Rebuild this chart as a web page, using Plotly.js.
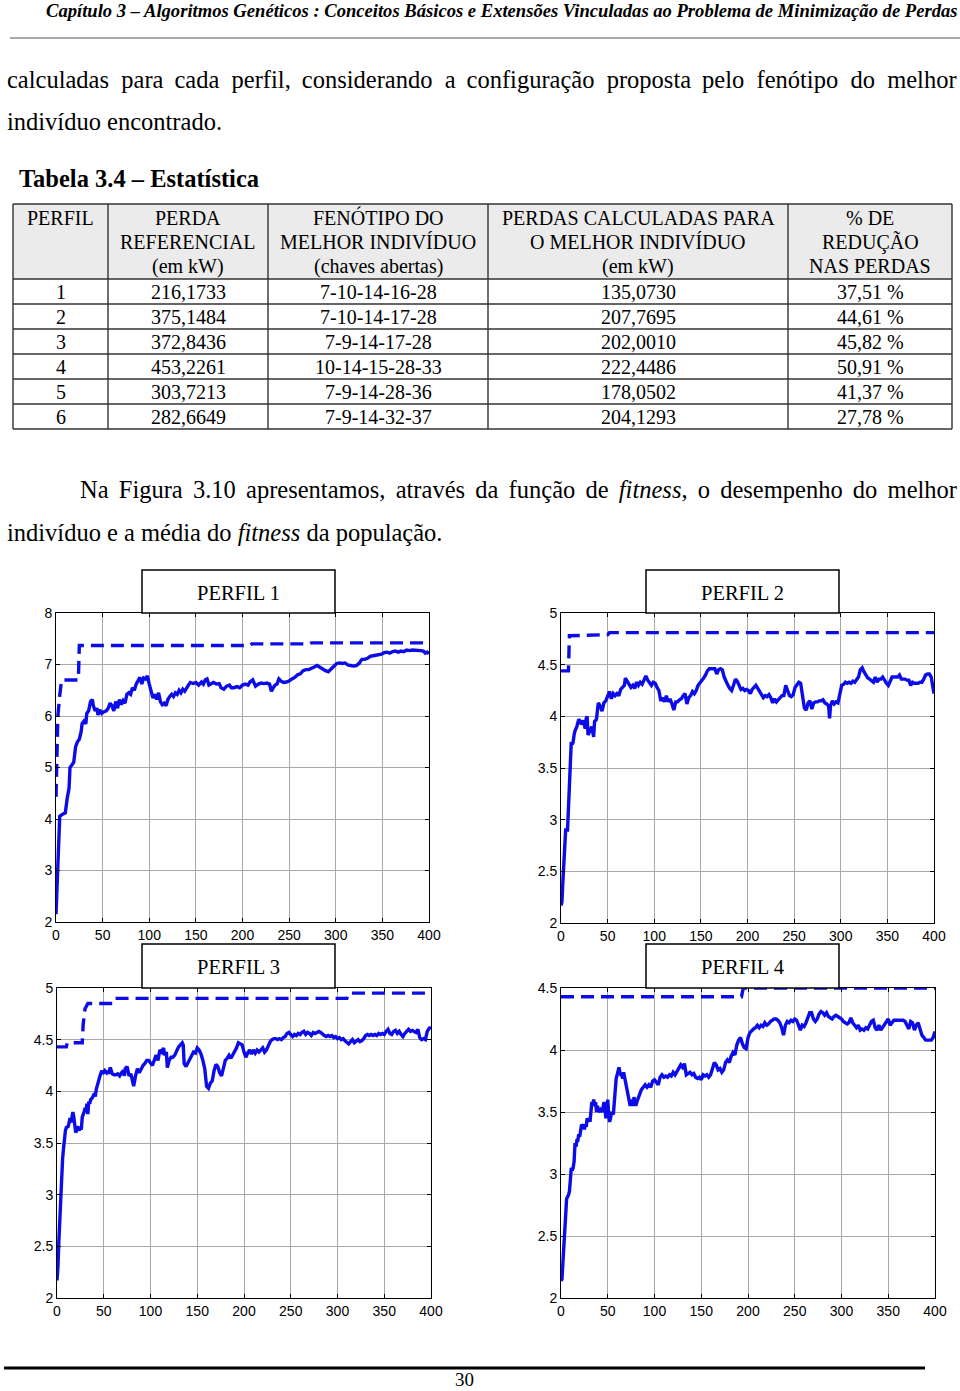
<!DOCTYPE html>
<html><head><meta charset="utf-8">
<script src="https://cdn.plot.ly/plotly-3.0.1.min.js"></script>
<style>html,body{margin:0;padding:0;background:#fff}#page{width:960px;height:1391px}</style>
</head><body><div id="page"></div>
<script>
// ---------- Table data ----------
const headerLine1 = ["PERFIL", "PERDA", "FENÓTIPO DO", "PERDAS CALCULADAS PARA", "% DE"];
const headerLine2 = ["", "REFERENCIAL", "MELHOR INDIVÍDUO", "O MELHOR INDIVÍDUO", "REDUÇÃO"];
const headerLine3 = ["", "(em kW)", "(chaves abertas)", "(em kW)", "NAS PERDAS"];
const perfis = ["1", "2", "3", "4", "5", "6"];
const perdaRef = ["216,1733", "375,1484", "372,8436", "453,2261", "303,7213", "282,6649"];
const fenotipo = ["7-10-14-16-28", "7-10-14-17-28", "7-9-14-17-28", "10-14-15-28-33", "7-9-14-28-36", "7-9-14-32-37"];
const perdaMelhor = ["135,0730", "207,7695", "202,0010", "222,4486", "178,0502", "204,1293"];
const reducao = ["37,51 %", "44,61 %", "45,82 %", "50,91 %", "41,37 %", "27,78 %"];

// ---------- Chart data ----------
const xTicks = [0, 50, 100, 150, 200, 250, 300, 350, 400];
const chartTitles = ["PERFIL 1", "PERFIL 2", "PERFIL 3", "PERFIL 4"];

const gen1 = [0,1,2,3,4,6,8,10,12,14,15,17,19,21,23,25,27,28,30,32,33,35,37,39,40,42,44,45,47,49,51,54,56,58,60,62,64,66,68,70,72,74,76,78,80,82,84,86,88,90,92,94,96,98,100,102,104,106,108,110,112,114,116,118,120,122,124,126,128,130,132,134,136,138,140,142,144,147,150,153,156,158,160,162,164,166,169,172,175,177,180,183,186,188,191,194,197,200,203,206,208,211,214,217,220,223,226,229,231,233,235,237,239,241,244,247,250,253,256,259,262,265,268,271,274,277,280,283,286,289,292,295,298,301,304,307,310,313,316,319,322,325,328,331,334,337,340,343,346,349,352,355,358,361,364,367,370,373,376,379,382,385,388,391,394,396,398,400];
const mean1 = [2.15,2.6,3.3,3.9,4.05,4.08,4.1,4.12,4.4,4.6,5.0,5.05,5.1,5.4,5.5,5.55,5.7,5.85,5.9,5.85,6.05,6.1,6.28,6.32,6.2,6.1,6.15,6.02,6.12,6.05,6.08,6.1,6.15,6.25,6.2,6.1,6.28,6.15,6.32,6.22,6.3,6.25,6.42,6.45,6.42,6.55,6.5,6.62,6.68,6.75,6.62,6.74,6.72,6.78,6.62,6.45,6.35,6.42,6.32,6.45,6.28,6.22,6.25,6.2,6.32,6.38,6.42,6.38,6.45,6.42,6.5,6.45,6.52,6.48,6.55,6.6,6.65,6.63,6.65,6.6,6.66,6.62,6.7,6.72,6.6,6.62,6.65,6.62,6.63,6.55,6.52,6.58,6.6,6.55,6.55,6.57,6.55,6.6,6.62,6.6,6.66,6.7,6.58,6.62,6.64,6.63,6.64,6.62,6.48,6.55,6.6,6.62,6.72,6.68,6.65,6.66,6.68,6.72,6.75,6.8,6.82,6.88,6.9,6.9,6.92,6.95,6.98,6.94,6.9,6.88,6.86,6.92,6.98,7.02,7.03,7.02,7.03,6.99,6.98,6.97,6.98,7.02,7.1,7.1,7.12,7.16,7.17,7.18,7.19,7.2,7.23,7.24,7.22,7.25,7.26,7.24,7.26,7.25,7.28,7.27,7.28,7.28,7.28,7.27,7.26,7.22,7.24,7.21];
const bestGen1 = [0,1,2,4,6,24,25,208,210,272,274,400];
const best1 = [4.43,5.1,6.0,6.4,6.7,6.7,7.37,7.37,7.4,7.4,7.42,7.42];

const gen2 = [0,1,2,3,4,5,7,8,9,10,11,12,13,14,15,17,19,21,22,24,25,26,27,28,29,31,33,34,35,36,38,40,42,44,46,48,50,52,54,56,58,60,62,64,66,68,69,71,73,75,77,79,81,83,85,87,89,91,93,95,97,99,101,103,105,107,109,111,113,115,117,119,121,123,125,127,129,131,133,135,137,139,141,143,145,147,149,151,153,155,157,159,162,165,167,169,171,173,175,177,179,181,183,185,187,189,191,193,195,197,199,201,203,205,207,209,211,213,215,217,219,221,223,225,227,229,231,233,235,237,239,241,243,245,247,249,251,253,255,257,259,261,263,265,267,269,271,273,275,277,279,281,283,285,287,288,289,291,293,295,297,299,301,303,305,307,309,311,313,315,317,319,321,323,325,327,329,331,333,335,337,339,341,343,345,347,349,351,353,355,357,359,361,363,365,367,369,371,373,375,377,379,381,383,385,387,389,391,393,395,397,399,400];
const mean2 = [2.17,2.2,2.4,2.55,2.8,2.9,2.9,3.1,3.3,3.65,3.75,3.73,3.75,3.82,3.86,3.9,3.97,3.95,3.92,3.96,3.92,3.88,3.98,4.0,3.82,3.86,3.9,3.85,3.8,3.95,3.97,4.13,4.1,4.05,4.13,4.15,4.2,4.24,4.17,4.22,4.2,4.22,4.2,4.26,4.28,4.3,4.37,4.34,4.3,4.28,4.3,4.27,4.33,4.3,4.33,4.31,4.35,4.39,4.35,4.32,4.3,4.33,4.32,4.28,4.25,4.15,4.18,4.14,4.2,4.14,4.17,4.12,4.06,4.14,4.14,4.16,4.17,4.2,4.22,4.12,4.18,4.2,4.24,4.22,4.25,4.3,4.32,4.34,4.37,4.4,4.44,4.46,4.46,4.46,4.41,4.45,4.46,4.45,4.38,4.33,4.3,4.27,4.25,4.3,4.36,4.34,4.3,4.26,4.27,4.25,4.26,4.25,4.22,4.26,4.28,4.3,4.27,4.24,4.22,4.18,4.2,4.19,4.21,4.18,4.13,4.17,4.14,4.16,4.18,4.2,4.2,4.3,4.25,4.2,4.19,4.21,4.28,4.3,4.33,4.32,4.2,4.08,4.06,4.13,4.15,4.07,4.13,4.14,4.14,4.15,4.15,4.16,4.13,4.12,4.1,3.98,4.1,4.15,4.12,4.14,4.13,4.2,4.3,4.31,4.33,4.32,4.33,4.32,4.34,4.33,4.36,4.38,4.45,4.47,4.43,4.4,4.37,4.36,4.34,4.33,4.38,4.33,4.36,4.36,4.38,4.34,4.32,4.3,4.35,4.38,4.38,4.38,4.38,4.4,4.36,4.36,4.36,4.35,4.35,4.3,4.33,4.32,4.32,4.32,4.33,4.33,4.36,4.4,4.41,4.41,4.38,4.25,4.22];
const bestGen2 = [0,8,9,50,52,400];
const best2 = [4.44,4.44,4.78,4.79,4.81,4.81];

const gen3 = [0,1,2,3,4,5,6,7,8,9,10,12,13,14,15,16,17,18,19,20,21,22,23,24,25,26,27,28,29,30,31,32,33,34,35,36,38,40,41,42,44,46,48,49,51,53,54,55,57,59,61,63,65,67,69,71,72,73,75,77,79,81,82,84,86,88,90,92,94,96,98,100,102,104,106,108,110,112,114,115,117,118,120,122,124,126,128,130,132,134,135,136,138,140,142,144,146,148,150,152,154,156,158,160,162,164,166,168,170,172,174,176,178,180,182,184,186,188,190,192,194,196,198,200,202,204,206,208,210,212,214,216,218,220,222,224,226,228,230,232,234,236,238,240,242,244,246,248,250,252,254,256,258,260,262,264,266,268,270,272,274,276,278,280,282,284,286,288,290,292,294,296,298,300,302,304,306,308,310,312,314,316,318,320,322,324,326,328,330,332,334,336,338,340,342,344,346,348,350,352,354,356,358,360,362,364,366,368,370,372,374,376,378,380,382,384,386,388,390,392,394,396,398,400];
const mean3 = [2.17,2.3,2.55,2.8,3.05,3.2,3.35,3.45,3.55,3.62,3.65,3.66,3.7,3.74,3.7,3.76,3.8,3.75,3.68,3.6,3.62,3.66,3.64,3.62,3.65,3.63,3.75,3.77,3.8,3.84,3.8,3.88,3.78,3.9,3.88,3.92,3.94,3.98,3.95,4.02,4.1,4.15,4.2,4.17,4.2,4.18,4.2,4.17,4.23,4.17,4.16,4.16,4.17,4.15,4.18,4.2,4.15,4.22,4.24,4.15,4.17,4.1,4.05,4.15,4.22,4.18,4.22,4.25,4.27,4.3,4.3,4.28,4.25,4.3,4.35,4.3,4.4,4.38,4.42,4.35,4.38,4.23,4.3,4.33,4.33,4.35,4.4,4.43,4.45,4.47,4.45,4.27,4.24,4.28,4.3,4.35,4.38,4.37,4.42,4.4,4.36,4.3,4.22,4.05,4.03,4.08,4.1,4.2,4.26,4.24,4.18,4.15,4.22,4.3,4.32,4.35,4.32,4.35,4.38,4.42,4.47,4.46,4.45,4.38,4.33,4.37,4.4,4.36,4.4,4.37,4.4,4.38,4.4,4.42,4.38,4.4,4.44,4.48,4.5,4.51,4.51,4.5,4.51,4.5,4.52,4.53,4.56,4.57,4.55,4.53,4.55,4.54,4.56,4.55,4.57,4.58,4.55,4.57,4.56,4.54,4.57,4.56,4.57,4.58,4.57,4.55,4.54,4.53,4.54,4.53,4.54,4.52,4.53,4.51,4.52,4.5,4.51,4.49,4.47,4.46,4.48,4.5,4.47,4.49,4.5,4.48,4.49,4.51,4.54,4.55,4.54,4.55,4.54,4.55,4.54,4.56,4.55,4.56,4.55,4.58,4.6,4.56,4.55,4.58,4.59,4.56,4.58,4.55,4.53,4.56,4.58,4.6,4.58,4.59,4.58,4.57,4.6,4.52,4.5,4.51,4.5,4.58,4.61,4.62];
const bestGen3 = [0,10,11,27,28,30,33,60,62,310,312,400];
const best3 = [4.43,4.43,4.47,4.47,4.65,4.8,4.85,4.85,4.9,4.9,4.95,4.95];

const gen4 = [0,1,2,3,4,5,6,8,9,10,11,12,13,14,15,16,17,18,19,20,21,22,23,24,25,26,27,28,29,30,31,32,33,34,35,36,37,38,39,40,42,44,46,47,48,49,50,51,52,53,54,56,57,58,59,60,61,62,63,64,65,66,67,68,69,70,71,72,73,74,75,76,77,78,79,80,82,84,86,88,90,92,94,96,98,100,102,104,106,108,110,112,114,116,118,120,122,124,126,128,130,132,134,136,138,140,142,144,146,148,150,152,154,156,158,160,162,164,166,168,170,172,174,176,178,180,182,184,186,188,190,192,194,196,198,200,202,204,206,208,210,212,214,216,218,220,222,224,226,228,230,232,234,236,238,240,242,244,246,248,250,252,254,256,258,260,262,264,266,268,270,272,274,276,278,280,282,284,286,288,290,292,294,296,298,300,302,304,306,308,310,312,314,316,318,320,322,324,326,328,330,332,334,336,338,340,342,344,346,348,350,352,354,356,358,360,362,364,366,368,370,372,374,376,378,380,382,384,386,388,390,392,394,396,398,400];
const mean4 = [2.14,2.15,2.28,2.4,2.5,2.65,2.8,2.83,2.86,2.95,3.05,3.03,3.05,3.1,3.25,3.22,3.27,3.27,3.32,3.3,3.35,3.4,3.38,3.4,3.36,3.4,3.38,3.45,3.42,3.45,3.42,3.5,3.58,3.57,3.6,3.55,3.58,3.5,3.55,3.5,3.52,3.5,3.58,3.52,3.45,3.5,3.6,3.48,3.42,3.45,3.5,3.48,3.6,3.72,3.77,3.8,3.84,3.86,3.82,3.8,3.8,3.77,3.82,3.78,3.72,3.68,3.64,3.62,3.58,3.55,3.6,3.58,3.55,3.62,3.58,3.55,3.6,3.65,3.68,3.7,3.72,3.7,3.72,3.7,3.75,3.76,3.74,3.72,3.78,3.8,3.78,3.79,3.78,3.8,3.79,3.82,3.8,3.83,3.86,3.88,3.86,3.89,3.8,3.81,3.82,3.8,3.81,3.78,3.77,3.78,3.76,3.8,3.79,3.8,3.78,3.8,3.85,3.9,3.88,3.84,3.85,3.82,3.84,3.9,3.92,3.9,3.95,3.98,3.96,4.04,4.08,4.1,4.05,4.02,4.01,4.1,4.14,4.16,4.17,4.18,4.2,4.18,4.2,4.19,4.22,4.2,4.21,4.23,4.24,4.25,4.25,4.24,4.22,4.18,4.12,4.2,4.23,4.22,4.24,4.23,4.25,4.24,4.2,4.16,4.2,4.19,4.22,4.26,4.3,4.3,4.25,4.23,4.25,4.29,4.31,4.3,4.28,4.3,4.27,4.26,4.25,4.27,4.28,4.27,4.26,4.25,4.23,4.22,4.21,4.22,4.26,4.22,4.2,4.18,4.2,4.16,4.17,4.16,4.18,4.17,4.2,4.23,4.24,4.18,4.16,4.2,4.16,4.18,4.2,4.22,4.25,4.2,4.22,4.24,4.24,4.24,4.24,4.24,4.24,4.23,4.2,4.17,4.23,4.22,4.16,4.2,4.22,4.17,4.12,4.1,4.08,4.08,4.08,4.08,4.1,4.15];
const bestGen4 = [0,193,195,400];
const best4 = [4.43,4.43,4.5,4.5];

// ---------- Layout helpers (page pixels -> paper) ----------
const W = 960, H = 1391;
const PX = x => x / W;
const PY = y => 1 - y / H;

const boxes = [
  {x0: 56, x1: 429, y0: 613, y1: 922, yr: [2, 8], dt: 1, tb: [142, 335, 570, 613]},
  {x0: 561, x1: 934, y0: 613, y1: 923, yr: [2, 5], dt: 0.5, tb: [646, 839, 570, 613]},
  {x0: 57, x1: 431, y0: 988, y1: 1298, yr: [2, 5], dt: 0.5, tb: [142, 335, 944, 988]},
  {x0: 561, x1: 935, y0: 988, y1: 1298, yr: [2, 4.5], dt: 0.5, tb: [646, 839, 944, 988]}
];
const gens = [gen1, gen2, gen3, gen4];
const means = [mean1, mean2, mean3, mean4];
const bestGens = [bestGen1, bestGen2, bestGen3, bestGen4];
const bests = [best1, best2, best3, best4];

const blue = "rgb(12,12,232)";
const serif = "Liberation Serif, Times New Roman, serif";
const sans = "Liberation Sans, Arial, sans-serif";

const traces = [];
const layout = {
  width: W, height: H, margin: {l: 0, r: 0, t: 0, b: 0},
  paper_bgcolor: "#fff", plot_bgcolor: "#fff", showlegend: false,
  annotations: [], shapes: []
};
const txt = (text, x, y, size, anchor) => layout.annotations.push({xref: "paper", yref: "paper",
  x: PX(x), y: PY(y), text: text, showarrow: false, xanchor: anchor || "left", yanchor: "middle",
  borderpad: 0, font: {family: serif, size: size, color: "#000"}});
const hline = (x0, x1, y, w, c) => layout.shapes.push({type: "line", xref: "paper", yref: "paper",
  x0: PX(x0), x1: PX(x1), y0: PY(y), y1: PY(y), line: {color: c || "#000", width: w}});
const vline = (x, y0, y1, w, c) => layout.shapes.push({type: "line", xref: "paper", yref: "paper",
  x0: PX(x), x1: PX(x), y0: PY(y0), y1: PY(y1), line: {color: c || "#000", width: w}});

// ---------- Charts ----------
boxes.forEach((b, i) => {
  const n = i === 0 ? "" : String(i + 1);
  const xa = "x" + n, ya = "y" + n;
  traces.push({type: "scatter", mode: "lines", x: gens[i], y: means[i], xaxis: xa, yaxis: ya,
    line: {color: blue, width: 3.4}, hoverinfo: "skip"});
  traces.push({type: "scatter", mode: "lines", x: bestGens[i], y: bests[i], xaxis: xa, yaxis: ya,
    line: {color: blue, width: 3.4, dash: "13px,7px"}, hoverinfo: "skip"});
  const common = {showgrid: true, gridcolor: "#a8a8a8", gridwidth: 1, showline: true, linecolor: "#000",
    linewidth: 1, mirror: "ticks", ticks: "inside", ticklen: 4, tickcolor: "#000", zeroline: false,
    tickfont: {family: sans, size: 14, color: "#000"}, fixedrange: true};
  layout["xaxis" + n] = Object.assign({}, common, {domain: [PX(b.x0), PX(b.x1)], range: [0, 400],
    tickvals: xTicks, anchor: ya});
  layout["yaxis" + n] = Object.assign({}, common, {domain: [PY(b.y1), PY(b.y0)], range: b.yr,
    dtick: b.dt, tick0: 2, anchor: xa});
  const t = b.tb;
  layout.shapes.push({type: "rect", xref: "paper", yref: "paper", x0: PX(t[0]), x1: PX(t[1]), y0: PY(t[3]), y1: PY(t[2]),
    line: {color: "#000", width: 1.5}, fillcolor: "#fff", layer: "above"});
  txt(chartTitles[i], (t[0] + t[1]) / 2, (t[2] + t[3]) / 2 + 1, 20.5, "center");
});

// ---------- Table (drawn with shapes + annotations) ----------
const colX = [13, 108, 268, 488, 788, 952];
const headTop = 204, headBot = 279, rowH = 25;
const columns = [perfis, perdaRef, fenotipo, perdaMelhor, reducao];
const nRows = perfis.length;
const tableBot = headBot + nRows * rowH;
layout.shapes.push({type: "rect", xref: "paper", yref: "paper", x0: PX(colX[0]), x1: PX(colX[5]),
  y0: PY(headBot), y1: PY(headTop), fillcolor: "#ebebeb", line: {width: 0}, layer: "below"});
hline(colX[0], colX[5], headTop, 1.4, "#333");
for (let r = 0; r <= nRows; r++) hline(colX[0], colX[5], headBot + r * rowH, 1.4, "#333");
colX.forEach(x => vline(x, headTop, tableBot, 1.4, "#333"));
const headerLines = [headerLine1, headerLine2, headerLine3];
for (let c = 0; c < 5; c++) {
  const cx = (colX[c] + colX[c + 1]) / 2;
  headerLines.forEach((hl, k) => { if (hl[c]) txt(hl[c], cx, 217.5 + k * 24.5, 20, "center"); });
  columns[c].forEach((v, r) => txt(v, cx, headBot + r * rowH + rowH / 2 + 0.5, 20, "center"));
}

// ---------- Page text (justified lines: widened gaps) ----------
const NB = "\u00a0", TH = "\u2009", SIX = "\u2006";
const justify = (words, gaps) => words.map((w, i) => i < words.length - 1 ? w + gaps[i] + " " : w).join("");
const line1 = ["calculadas", "para", "cada", "perfil,", "considerando", "a", "configuração", "proposta", "pelo", "fenótipo", "do", "melhor"];
const line3 = ["Na", "Figura", "3.10", "apresentamos,", "através", "da", "função", "de", "<i>fitness</i>,", "o", "desempenho", "do", "melhor"];
const gaps1 = [NB, TH, NB, TH, NB, TH, NB, TH, NB, NB, NB];
const gaps3 = line3.map(() => SIX);
txt("<b><i>Capítulo 3 – Algoritmos Genéticos : Conceitos Básicos e Extensões Vinculadas ao Problema de Minimização de Perdas</i></b>", 958, 11, 18.6, "right");
txt(justify(line1, gaps1), 6, 79, 24.5);
txt("indivíduo encontrado.", 6, 122, 24.5);
txt("<b>Tabela 3.4 – Estatística</b>", 18, 179, 24.5);
txt(justify(line3, gaps3), 79, 490, 24.5);
txt("indivíduo e a média do <i>fitness</i> da população.", 6, 533, 24.5);
txt("30", 464, 1379, 19, "center");

hline(10, 960, 38, 1, "#555");
hline(4, 925, 1368, 3, "#000");

Plotly.newPlot("page", traces, layout, {staticPlot: true, displayModeBar: false});
</script>
</body></html>
